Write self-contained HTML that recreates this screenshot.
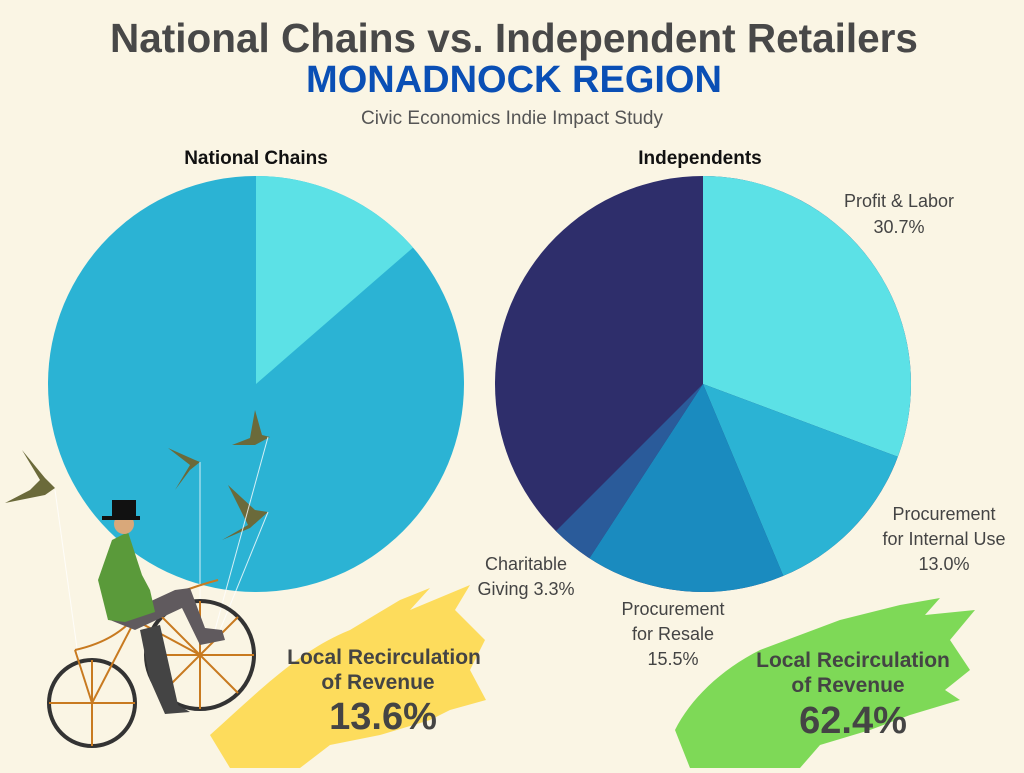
<!DOCTYPE html>
<html><head><meta charset="utf-8"><style>
body{margin:0;width:1024px;height:768px;background:#faf5e4;overflow:hidden;font-family:"Liberation Sans",sans-serif}
</style></head><body>
<svg width="1024" height="768" viewBox="0 0 1024 768" xmlns="http://www.w3.org/2000/svg" font-family="Liberation Sans, sans-serif">
<rect width="1024" height="768" fill="#faf5e4"/>
<text x="514" y="52" text-anchor="middle" font-size="40.5" font-weight="bold" fill="#484848">National Chains vs. Independent Retailers</text>
<text x="514" y="92" text-anchor="middle" font-size="38" font-weight="bold" fill="#0a4fb5">MONADNOCK REGION</text>
<text x="512" y="124" text-anchor="middle" font-size="19" fill="#555">Civic Economics Indie Impact Study</text>
<text x="256" y="164" text-anchor="middle" font-size="19" font-weight="bold" fill="#111">National Chains</text>
<text x="700" y="164" text-anchor="middle" font-size="19" font-weight="bold" fill="#111">Independents</text>
<path d="M210 735 C260 690 300 650 350 630 L400 600 L430 588 L410 610 L470 585 L455 610 L485 640 L470 670 L486 700 L450 710 L430 720 L380 735 L330 745 L300 768 L230 768 Z" fill="#fddc5c"/>
<path d="M675 730 C690 700 720 670 760 650 L840 620 L900 605 L940 598 L925 615 L975 610 L950 640 L970 670 L945 690 L960 700 L910 715 L870 730 L820 745 L800 768 L690 768 Z" fill="#7ed957"/>
<circle cx="256" cy="384" r="208" fill="#2bb3d4"/>
<path d="M256 384 L256 176 A208 208 0 0 1 413 247.6 Z" fill="#5ce1e6"/>
<circle cx="703" cy="384" r="208" fill="#2e2e6b"/>
<path d="M703 384 L703 176 A208 208 0 0 1 897.8 456.8 Z" fill="#5ce1e6"/>
<path d="M703 384 L897.8 456.8 A208 208 0 0 1 783.3 575.9 Z" fill="#2bb3d4"/>
<path d="M703 384 L783.3 575.9 A208 208 0 0 1 589.4 558.2 Z" fill="#1a8bbf"/>
<path d="M703 384 L589.4 558.2 A208 208 0 0 1 555.9 531.1 Z" fill="#2a5b9a"/>
<g font-size="18" fill="#444" text-anchor="middle">
<text x="899" y="207">Profit &amp; Labor</text><text x="899" y="233">30.7%</text>
<text x="944" y="520">Procurement</text><text x="944" y="545">for Internal Use</text><text x="944" y="570">13.0%</text>
<text x="526" y="570">Charitable</text><text x="526" y="595">Giving 3.3%</text>
<text x="673" y="615">Procurement</text><text x="673" y="640">for Resale</text><text x="673" y="665">15.5%</text>
</g>
<g font-weight="bold" fill="#444" text-anchor="middle">
<text x="384" y="664" font-size="21">Local Recirculation</text><text x="378" y="689" font-size="21">of Revenue</text>
<text x="383" y="729" font-size="38">13.6%</text>
<text x="853" y="667" font-size="21">Local Recirculation</text><text x="848" y="692" font-size="21">of Revenue</text>
<text x="853" y="733" font-size="38">62.4%</text>
</g>
<g fill="#6b6a3a">
<path d="M5 503 L30 490 L40 480 L22 450 L45 478 L55 488 L45 495 Z"/>
<path d="M175 490 L190 465 L168 448 L195 460 L200 462 L190 470 Z"/>
<path d="M232 445 L250 438 L255 410 L262 435 L270 437 L255 445 Z"/>
<path d="M222 540 L248 525 L228 485 L255 510 L268 512 L250 528 Z"/>
</g>
<g stroke="#fff" stroke-width="1" opacity="0.8">
<line x1="200" y1="462" x2="200" y2="600"/><line x1="268" y1="437" x2="215" y2="630"/><line x1="268" y1="512" x2="220" y2="630"/><line x1="55" y1="490" x2="80" y2="670"/>
</g>
<g fill="none" stroke="#333" stroke-width="4">
<circle cx="92" cy="703" r="43"/><circle cx="200" cy="655" r="54"/>
</g>
<g stroke="#c87a20" stroke-width="2" fill="none">
<line x1="92" y1="703" x2="135" y2="620"/><line x1="135" y1="620" x2="200" y2="655"/><line x1="75" y1="650" x2="92" y2="703"/>
<path d="M75 650 Q120 640 140 610 Q180 590 218 580"/>
<line x1="49" y1="703" x2="135" y2="703"/><line x1="92" y1="660" x2="92" y2="746"/>
<line x1="146" y1="655" x2="254" y2="655"/><line x1="200" y1="601" x2="200" y2="709"/>
<line x1="162" y1="617" x2="238" y2="693"/><line x1="162" y1="693" x2="238" y2="617"/>
</g>
<path d="M140 630 L160 625 L178 705 L190 712 L165 714 L150 680 Z" fill="#444"/>
<path d="M110 620 L175 590 L190 588 L205 628 L222 630 L225 640 L200 645 L182 608 L135 630 Z" fill="#605a5e"/>
<path d="M112 540 L128 532 L142 575 L150 590 L155 612 L125 622 L108 620 L98 580 Z" fill="#5a9a3a"/>
<circle cx="124" cy="524" r="10" fill="#d9a87a"/>
<rect x="112" y="500" width="24" height="18" fill="#111"/><rect x="102" y="516" width="38" height="4" fill="#111"/>
</svg>
</body></html>
